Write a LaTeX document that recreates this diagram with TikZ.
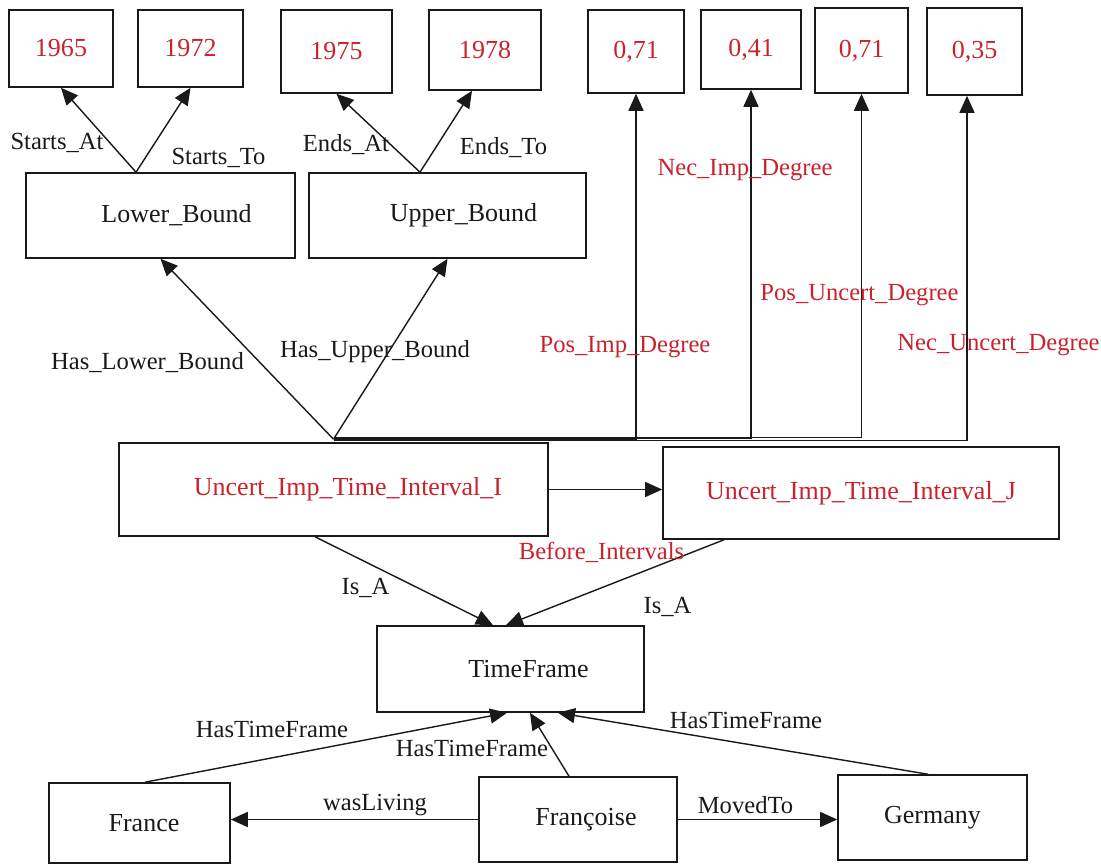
\documentclass[tikz,border=0pt]{standalone}
\usepackage{fontspec}
\setmainfont{Liberation Serif}
\usetikzlibrary{arrows.meta,calc}
\definecolor{ink}{RGB}{25,25,25}
\definecolor{rust}{RGB}{200,35,45}
\newcommand\boxsize{\fontsize{14.8}{17}\selectfont}
\newcommand\tagsize{\fontsize{14}{16}\selectfont}
\tikzset{
  >={Triangle[length=3.4mm,width=3mm]},
  box/.style={draw=ink,line width=0.9pt,text=#1,font=\boxsize,inner sep=0pt},
  box/.default=ink,
  flow/.style={->,line width=0.8pt,draw=ink},
  tag/.style={font=\tagsize,text=#1,inner sep=0pt},
  tag/.default=ink,
}

\begin{document}
\begin{tikzpicture}
  \useasboundingbox (0,0) rectangle (22.02,-17.32);
  % values on top
  \foreach \nm/\t/\x/\y/\w/\h in {s1/1965/1.22/-0.97/2.08/1.54, s2/1972/3.81/-0.97/2.10/1.54,
      e1/1975/6.73/-1.03/2.22/1.66, e2/1978/9.70/-1.00/2.24/1.60,
      d1/{0,71}/12.72/-1.03/1.92/1.66, d2/{0,41}/15.02/-0.99/2.00/1.58,
      d3/{0,71}/17.23/-1.01/1.86/1.70, d4/{0,35}/19.49/-1.03/1.90/1.74}
    \node[box=rust,minimum width=\w cm,minimum height=\h cm] (\nm) at (\x,\y) {\t};
  % concepts
  \node[box,minimum width=5.38cm,minimum height=1.70cm] (lo) at (3.21,-4.31) {\hspace*{6.4mm}Lower\_Bound};
  \node[box,minimum width=5.54cm,minimum height=1.70cm] (up) at (8.95,-4.31) {\hspace*{6.4mm}Upper\_Bound};
  \node[box=rust,minimum width=8.58cm,minimum height=1.86cm] (ui) at (6.67,-9.79) {\hspace*{5.8mm}Uncert\_Imp\_Time\_Interval\_I};
  \node[box=rust,minimum width=7.92cm,minimum height=1.84cm] (uj) at (17.22,-9.86) {Uncert\_Imp\_Time\_Interval\_J};
  \node[box,minimum width=5.34cm,minimum height=1.72cm] (tf) at (10.21,-13.38) {\hspace*{7.2mm}TimeFrame};
  \node[box,minimum width=3.62cm,minimum height=1.60cm] (fr) at (2.79,-16.46) {\hspace*{1.8mm}France};
  \node[box,minimum width=3.96cm,minimum height=1.70cm] (fc) at (11.56,-16.39) {\hspace*{3.2mm}Françoise};
  \node[box,minimum width=3.78cm,minimum height=1.70cm] (de) at (18.65,-16.35) {Germany};
  % relations
  \draw[flow] ([xshift=-4.9mm]lo.north) -- (s1.south);
  \draw[flow] ([xshift=-4.9mm]lo.north) -- (s2.south);
  \draw[flow] ([xshift=-5.5mm]up.north) -- (e1.south);
  \draw[flow] ([xshift=-5.5mm]up.north) -- ([xshift=-2.6mm]e2.south);
  \coordinate (hub) at ([yshift=0.6mm]ui.north);
  \draw[flow] (hub) -- (lo.south);
  \draw[flow] (hub) -- (up.south);
  \foreach \d/\o/\s in {d1/0/0,d2/0.15/0,d3/0.3/0,d4/-0.25/-1.5}
    \draw[flow] ([yshift=\o mm]hub) -| ([xshift=\s mm]\d.south);
  \draw[flow] (ui.east) -- (ui.east -| uj.west);
  \draw[flow] ([xshift=-3.7mm]ui.south) -- ([xshift=-3.5mm]tf.north);
  \draw[flow] ([xshift=-27.4mm]uj.south) -- ([xshift=-0.9mm]tf.north);
  \draw[flow] ([xshift=1.1mm]fr.north) -- ([xshift=-0.7mm]tf.south);
  \draw[flow] ([xshift=-1.8mm]fc.north) -- ([xshift=3.9mm]tf.south);
  \draw[flow] ([xshift=-0.9mm]de.north) -- ([xshift=9.5mm]tf.south);
  \draw[flow] (fc.west) -- (fc.west -| fr.east);
  \draw[flow] (fc.east) -- (fc.east -| de.west);
  % labels
  \foreach \nm/\t/\x/\y in {tSA/Starts\_At/1.14/-2.86, tST/Starts\_To/4.37/-3.16,
      tEA/Ends\_At/6.92/-2.90, tET/Ends\_To/10.07/-2.96,
      tHL/Has\_Lower\_Bound/2.95/-7.26, tHU/Has\_Upper\_Bound/7.50/-7.04,
      tIA/Is\_A/7.31/-11.76, tIB/Is\_A/13.35/-12.14,
      tH1/HasTimeFrame/5.44/-14.58, tH2/HasTimeFrame/9.44/-14.96, tH3/HasTimeFrame/14.92/-14.40,
      tWL/wasLiving/7.50/-16.10, tMT/MovedTo/14.91/-16.10}
    \node[tag] (\nm) at (\x,\y) {\t};
  \foreach \nm/\t/\x/\y in {tPI/Pos\_Imp\_Degree/12.50/-6.94, tNI/Nec\_Imp\_Degree/14.90/-3.40,
      tPU/Pos\_Uncert\_Degree/17.19/-5.90, tNU/Nec\_Uncert\_Degree/19.97/-6.90,
      tBI/Before\_Intervals/12.03/-11.04}
    \node[tag=rust] (\nm) at (\x,\y) {\t};
\end{tikzpicture}
\end{document}
